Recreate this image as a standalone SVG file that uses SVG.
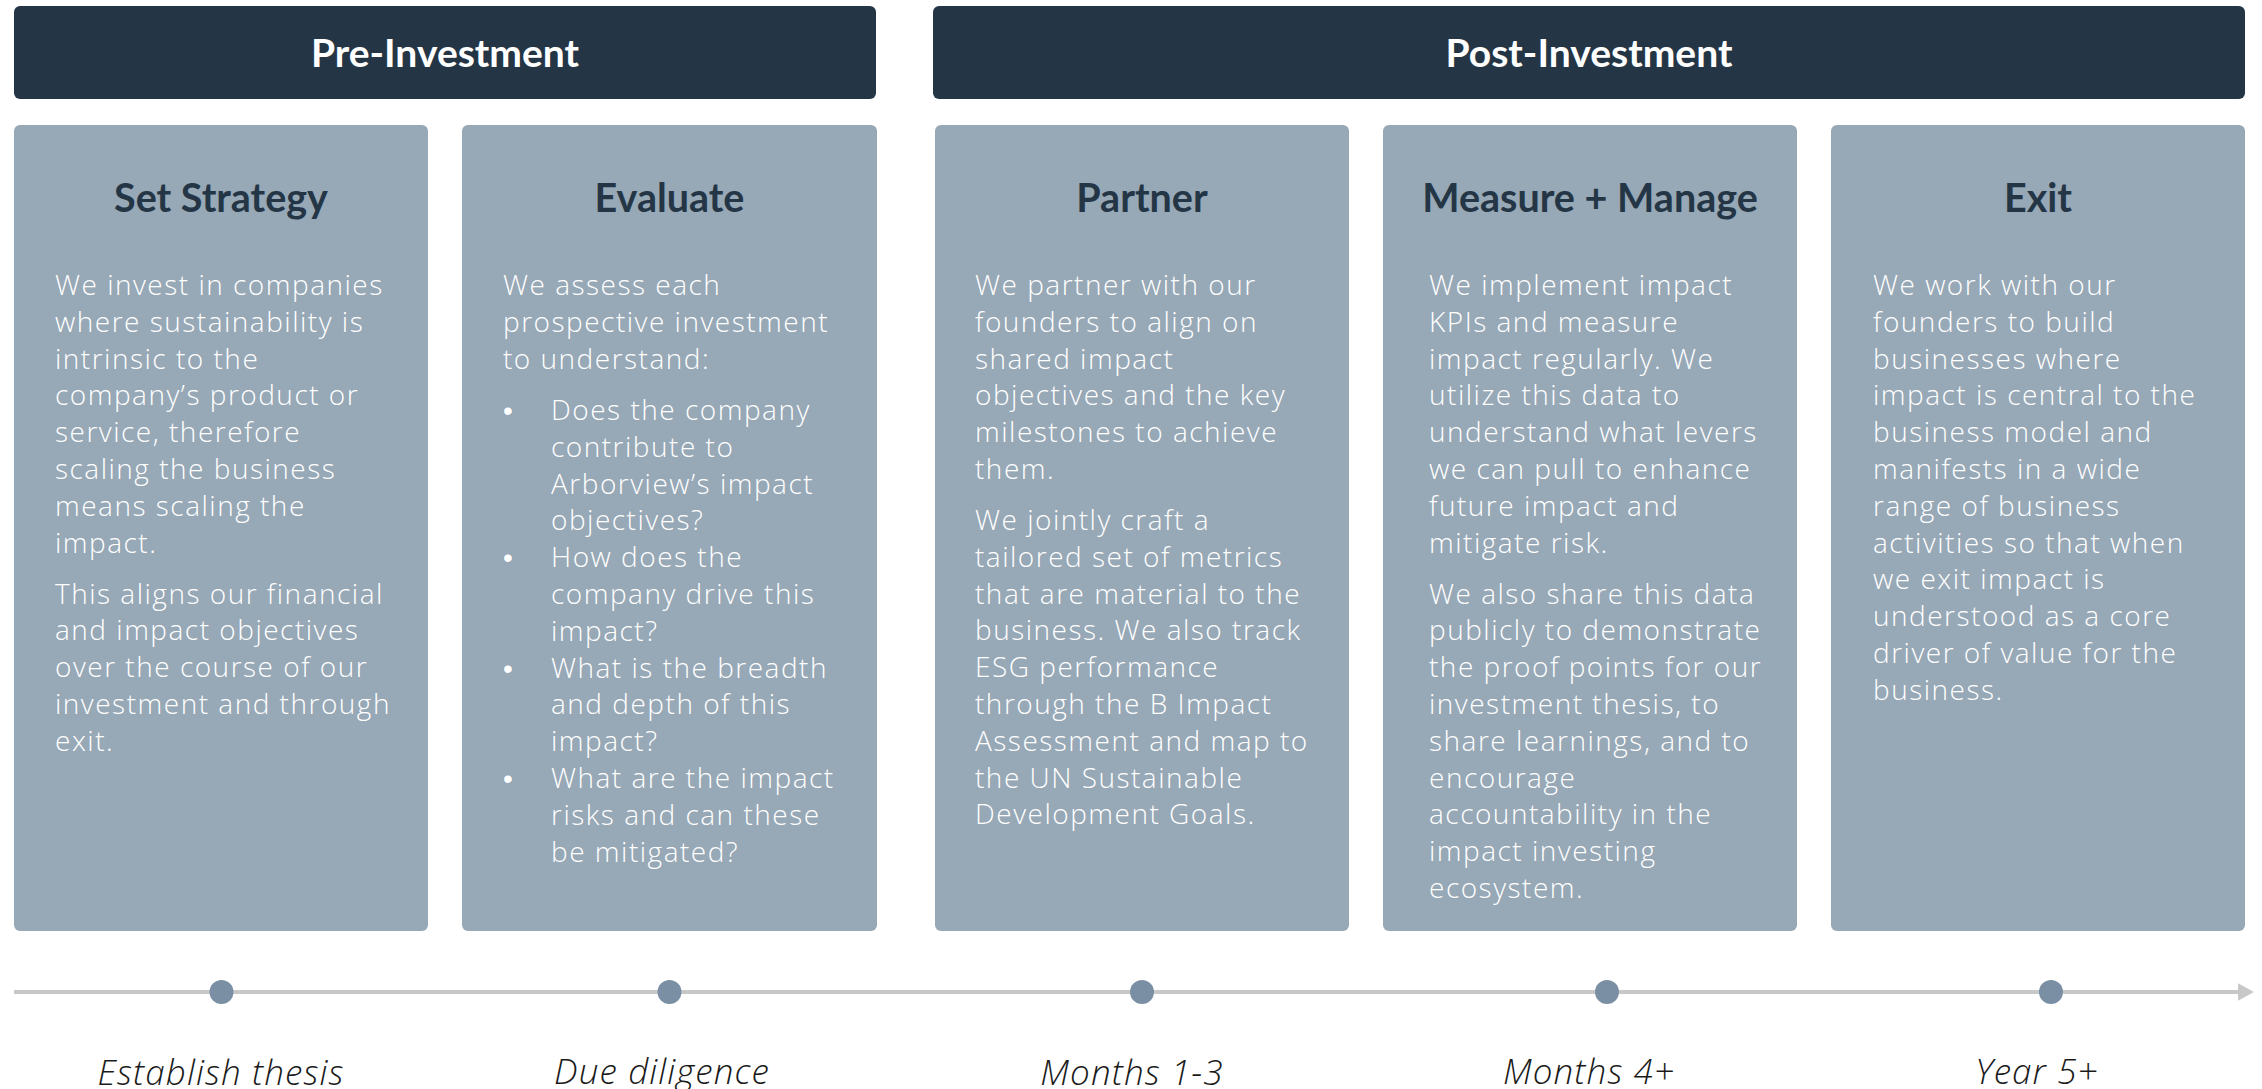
<svg xmlns="http://www.w3.org/2000/svg" width="2262" height="1089" viewBox="0 0 2262 1089">
  <style>
    .band { fill: #243646; }
    .band-title { font-family: Lato, "Liberation Sans", sans-serif; font-weight: 700; font-size: 39px; fill: #ffffff; text-anchor: middle; }
    .card { fill: #97a8b6; }
    .card-title { font-family: Lato, "Liberation Sans", sans-serif; font-weight: 700; font-size: 39.5px; fill: #243646; text-anchor: middle; }
    .body { font-family: "Open Sans", "Liberation Sans", sans-serif; font-weight: 300; font-size: 28px; letter-spacing: 1.5px; fill: #ffffff; }
    .bullet { font-family: "Liberation Sans", sans-serif; font-size: 28px; fill: #ffffff; }
    .dot { fill: #7a8fa3; }
    .axis { stroke: #c8c8c8; stroke-width: 4; fill: none; }
    .stage { font-family: "Open Sans", "Liberation Sans", sans-serif; font-weight: 300; font-style: italic; font-size: 35px; letter-spacing: 1.1px; fill: #1a1a1a; text-anchor: middle; }
  </style>
  <defs>
    <marker id="arrow" markerWidth="5" markerHeight="5" refX="0" refY="2.2" orient="auto" markerUnits="strokeWidth">
      <path d="M0,0 L4,2.2 L0,4.4 Z" fill="#c8c8c8"/>
    </marker>
  </defs>

  <rect width="2262" height="1089" fill="#ffffff"/>

  <!-- Phase bands -->
  <g id="pre-investment">
    <rect class="band" x="14" y="6" width="862" height="93" rx="6"/>
    <text class="band-title" x="445" y="67">Pre-Investment</text>
  </g>
  <g id="post-investment">
    <rect class="band" x="933" y="6" width="1312" height="93" rx="6"/>
    <text class="band-title" x="1589" y="67">Post-Investment</text>
  </g>

  <!-- Stage cards -->
  <g id="set-strategy">
    <rect class="card" x="14" y="125" width="414" height="806" rx="6"/>
    <text class="card-title" x="221" y="212">Set Strategy</text>
    <text class="body">
      <tspan x="55" y="295">We invest in companies</tspan>
      <tspan x="55" dy="36.8">where sustainability is</tspan>
      <tspan x="55" dy="36.8">intrinsic to the</tspan>
      <tspan x="55" dy="36.8">company’s product or</tspan>
      <tspan x="55" dy="36.8">service, therefore</tspan>
      <tspan x="55" dy="36.8">scaling the business</tspan>
      <tspan x="55" dy="36.8">means scaling the</tspan>
      <tspan x="55" dy="36.8">impact.</tspan>
      <tspan x="55" dy="51">This aligns our financial</tspan>
      <tspan x="55" dy="36.8">and impact objectives</tspan>
      <tspan x="55" dy="36.8">over the course of our</tspan>
      <tspan x="55" dy="36.8">investment and through</tspan>
      <tspan x="55" dy="36.8">exit.</tspan>
    </text>
  </g>

  <g id="evaluate">
    <rect class="card" x="462" y="125" width="415" height="806" rx="6"/>
    <text class="card-title" x="669.5" y="212">Evaluate</text>
    <text class="body">
      <tspan x="503" y="295">We assess each</tspan>
      <tspan x="503" dy="36.8">prospective investment</tspan>
      <tspan x="503" dy="36.8">to understand:</tspan>
    </text>
    <text class="bullet">
      <tspan x="503" y="420">•</tspan>
      <tspan x="503" y="567.2">•</tspan>
      <tspan x="503" y="677.6">•</tspan>
      <tspan x="503" y="788">•</tspan>
    </text>
    <text class="body">
      <tspan x="551" y="420">Does the company</tspan>
      <tspan x="551" dy="36.8">contribute to</tspan>
      <tspan x="551" dy="36.8">Arborview’s impact</tspan>
      <tspan x="551" dy="36.8">objectives?</tspan>
      <tspan x="551" y="567.2">How does the</tspan>
      <tspan x="551" dy="36.8">company drive this</tspan>
      <tspan x="551" dy="36.8">impact?</tspan>
      <tspan x="551" y="677.6">What is the breadth</tspan>
      <tspan x="551" dy="36.8">and depth of this</tspan>
      <tspan x="551" dy="36.8">impact?</tspan>
      <tspan x="551" y="788">What are the impact</tspan>
      <tspan x="551" dy="36.8">risks and can these</tspan>
      <tspan x="551" dy="36.8">be mitigated?</tspan>
    </text>
  </g>

  <g id="partner">
    <rect class="card" x="935" y="125" width="414" height="806" rx="6"/>
    <text class="card-title" x="1142" y="212">Partner</text>
    <text class="body">
      <tspan x="975" y="295">We partner with our</tspan>
      <tspan x="975" dy="36.8">founders to align on</tspan>
      <tspan x="975" dy="36.8">shared impact</tspan>
      <tspan x="975" dy="36.8">objectives and the key</tspan>
      <tspan x="975" dy="36.8">milestones to achieve</tspan>
      <tspan x="975" dy="36.8">them.</tspan>
      <tspan x="975" dy="51">We jointly craft a</tspan>
      <tspan x="975" dy="36.8">tailored set of metrics</tspan>
      <tspan x="975" dy="36.8">that are material to the</tspan>
      <tspan x="975" dy="36.8">business. We also track</tspan>
      <tspan x="975" dy="36.8">ESG performance</tspan>
      <tspan x="975" dy="36.8">through the B Impact</tspan>
      <tspan x="975" dy="36.8">Assessment and map to</tspan>
      <tspan x="975" dy="36.8">the UN Sustainable</tspan>
      <tspan x="975" dy="36.8">Development Goals.</tspan>
    </text>
  </g>

  <g id="measure-manage">
    <rect class="card" x="1383" y="125" width="414" height="806" rx="6"/>
    <text class="card-title" x="1590" y="212">Measure + Manage</text>
    <text class="body">
      <tspan x="1429" y="295">We implement impact</tspan>
      <tspan x="1429" dy="36.8">KPIs and measure</tspan>
      <tspan x="1429" dy="36.8">impact regularly. We</tspan>
      <tspan x="1429" dy="36.8">utilize this data to</tspan>
      <tspan x="1429" dy="36.8">understand what levers</tspan>
      <tspan x="1429" dy="36.8">we can pull to enhance</tspan>
      <tspan x="1429" dy="36.8">future impact and</tspan>
      <tspan x="1429" dy="36.8">mitigate risk.</tspan>
      <tspan x="1429" dy="51">We also share this data</tspan>
      <tspan x="1429" dy="36.8">publicly to demonstrate</tspan>
      <tspan x="1429" dy="36.8">the proof points for our</tspan>
      <tspan x="1429" dy="36.8">investment thesis, to</tspan>
      <tspan x="1429" dy="36.8">share learnings, and to</tspan>
      <tspan x="1429" dy="36.8">encourage</tspan>
      <tspan x="1429" dy="36.8">accountability in the</tspan>
      <tspan x="1429" dy="36.8">impact investing</tspan>
      <tspan x="1429" dy="36.8">ecosystem.</tspan>
    </text>
  </g>

  <g id="exit">
    <rect class="card" x="1831" y="125" width="414" height="806" rx="6"/>
    <text class="card-title" x="2038" y="212">Exit</text>
    <text class="body">
      <tspan x="1873" y="295">We work with our</tspan>
      <tspan x="1873" dy="36.8">founders to build</tspan>
      <tspan x="1873" dy="36.8">businesses where</tspan>
      <tspan x="1873" dy="36.8">impact is central to the</tspan>
      <tspan x="1873" dy="36.8">business model and</tspan>
      <tspan x="1873" dy="36.8">manifests in a wide</tspan>
      <tspan x="1873" dy="36.8">range of business</tspan>
      <tspan x="1873" dy="36.8">activities so that when</tspan>
      <tspan x="1873" dy="36.8">we exit impact is</tspan>
      <tspan x="1873" dy="36.8">understood as a core</tspan>
      <tspan x="1873" dy="36.8">driver of value for the</tspan>
      <tspan x="1873" dy="36.8">business.</tspan>
    </text>
  </g>

  <!-- Timeline axis -->
  <g id="connectors">
    <line class="axis" x1="14" y1="992" x2="2238" y2="992" marker-end="url(#arrow)"/>
  </g>

  <!-- Milestones on the axis -->
  <g id="milestone-thesis">
    <circle class="dot" cx="221.5" cy="992" r="12"/>
    <text class="stage" x="221" y="1085">Establish thesis</text>
  </g>
  <g id="milestone-diligence">
    <circle class="dot" cx="669.5" cy="992" r="12"/>
    <text class="stage" x="662" y="1084">Due diligence</text>
  </g>
  <g id="milestone-months-1-3">
    <circle class="dot" cx="1142" cy="992" r="12"/>
    <text class="stage" x="1132" y="1085">Months 1-3</text>
  </g>
  <g id="milestone-months-4">
    <circle class="dot" cx="1607" cy="992" r="12"/>
    <text class="stage" x="1589" y="1084">Months 4+</text>
  </g>
  <g id="milestone-year-5">
    <circle class="dot" cx="2051" cy="992" r="12"/>
    <text class="stage" x="2037" y="1084">Year 5+</text>
  </g>
</svg>
